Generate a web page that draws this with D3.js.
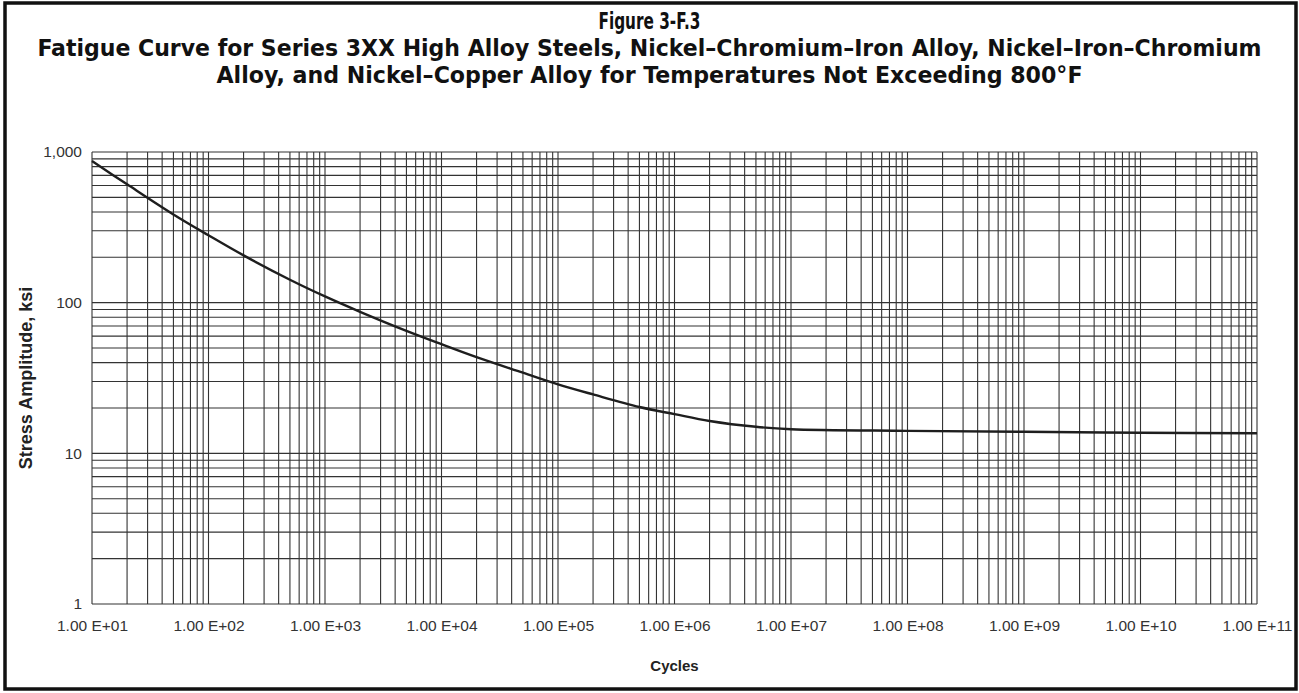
<!DOCTYPE html>
<html>
<head>
<meta charset="utf-8">
<script src="https://cdn.jsdelivr.net/npm/d3@7"></script>
<style>
    body { margin: 0; background: #fff; }
    svg { display: block; }
    .title { font-stretch: condensed; }
</style>
</head>
<body>
<div id="grafico"></div>
<script>
var cycles = [1e1, 2e1, 5e1, 1e2, 2e2, 5e2, 1e3, 2e3, 5e3, 1e4, 2e4, 5e4, 1e5, 2e5, 5e5,
    1e6, 2e6, 5e6, 1e7, 1e8, 1e9, 1e10, 1e11];
var stressKsi = [870, 610, 385, 280, 206, 142, 110, 87, 65, 53, 43.5, 34.3, 28.7, 24.6, 20.3,
    18.2, 16.4, 15.0, 14.45, 14.1, 13.9, 13.7, 13.6];
var xTickValues = [1e1, 1e2, 1e3, 1e4, 1e5, 1e6, 1e7, 1e8, 1e9, 1e10, 1e11];
var xTickLabels = ["1.00 E+01", "1.00 E+02", "1.00 E+03", "1.00 E+04", "1.00 E+05", "1.00 E+06",
    "1.00 E+07", "1.00 E+08", "1.00 E+09", "1.00 E+10", "1.00 E+11"];
var yTickValues = [1, 10, 100, 1000];
var yTickLabels = ["1", "10", "100", "1,000"];
var titleLines = [
    "Figure 3-F.3",
    "Fatigue Curve for Series 3XX High Alloy Steels, Nickel\u2013Chromium\u2013Iron Alloy, Nickel\u2013Iron\u2013Chromium",
    "Alloy, and Nickel\u2013Copper Alloy for Temperatures Not Exceeding 800\u00b0F"
];

var W = 1299, H = 693;
var m = {top: 152, right: 42, bottom: 89, left: 92}
    , w = W - m.left - m.right
    , h = H - m.top - m.bottom;

var svg = d3.select("#grafico").append("svg")
    .attr("width", W)
    .attr("height", H);

// outer frame
svg.append("rect")
    .attr("x", 5)
    .attr("y", 3)
    .attr("width", 1291)
    .attr("height", 686)
    .attr("fill", "none")
    .attr("stroke", "#111")
    .attr("stroke-width", 3.5);

var titleFont = "'DejaVu Sans Condensed', 'DejaVu Sans', 'Liberation Sans Narrow', sans-serif";
var titleWidths = [102, 1224, 866];
var titleY = [29, 56, 83];
svg.selectAll(".title")
    .data(titleLines)
    .enter().append("text")
    .attr("class", "title")
    .attr("x", W / 2)
    .attr("y", function(d, i) { return titleY[i]; })
    .attr("text-anchor", "middle")
    .attr("font-family", titleFont)
    .attr("font-weight", "bold")
    .attr("font-size", "23.5px")
    .attr("fill", "#111")
    .attr("textLength", function(d, i) { return titleWidths[i]; })
    .attr("lengthAdjust", "spacingAndGlyphs")
    .text(function(d) { return d; });

var g = svg.append("g")
    .attr("transform", "translate(" + m.left + "," + m.top + ")");

var x = d3.scaleLog()
    .domain([1e1, 1e11])
    .range([0, w]);

var y = d3.scaleLog()
    .domain([1, 1000])
    .range([h, 0]);

//grid: every 1..9 per decade
var xGrid = [];
for (var e = 1; e < 11; e++) {
    for (var k = 1; k < 10; k++) xGrid.push(k * Math.pow(10, e));
}
xGrid.push(1e11);
var yGrid = [];
for (var e2 = 0; e2 < 3; e2++) {
    for (var k2 = 1; k2 < 10; k2++) yGrid.push(k2 * Math.pow(10, e2));
}
yGrid.push(1000);

g.selectAll(".vgrid")
    .data(xGrid)
    .enter().append("line")
    .attr("class", "vgrid")
    .attr("x1", function(d) { return x(d); })
    .attr("x2", function(d) { return x(d); })
    .attr("y1", 0)
    .attr("y2", h)
    .attr("stroke", "#333")
    .attr("stroke-width", 1.1);

g.selectAll(".hgrid")
    .data(yGrid)
    .enter().append("line")
    .attr("class", "hgrid")
    .attr("x1", 0)
    .attr("x2", w)
    .attr("y1", function(d) { return y(d); })
    .attr("y2", function(d) { return y(d); })
    .attr("stroke", "#333")
    .attr("stroke-width", 1.1);

var labelFont = "'Liberation Sans', Arial, sans-serif";

var xAxis = d3.axisBottom(x)
    .tickValues(xTickValues)
    .tickSize(0)
    .tickPadding(16)
    .tickFormat(function(d, i) { return xTickLabels[i]; });

var yAxis = d3.axisLeft(y)
    .tickValues(yTickValues)
    .tickSize(0)
    .tickPadding(10)
    .tickFormat(function(d, i) { return yTickLabels[i]; });

var gx = g.append("g")
    .attr("class", "x axis")
    .attr("transform", "translate(0," + h + ")")
    .call(xAxis);
var gy = g.append("g")
    .attr("class", "y axis")
    .call(yAxis);

[gx, gy].forEach(function(a) {
    a.select(".domain").remove();
    a.selectAll("text")
        .attr("font-family", labelFont)
        .attr("font-size", "15.5px")
        .attr("fill", "#333");
});

// curve
var line = d3.line()
    .x(function(d) { return x(d[0]); })
    .y(function(d) { return y(d[1]); })
    .curve(d3.curveCatmullRom.alpha(0.5));

g.append("path")
    .datum(cycles.map(function(c, i) { return [c, stressKsi[i]]; }))
    .attr("d", line)
    .attr("fill", "none")
    .attr("stroke", "#1e1e1e")
    .attr("stroke-width", 2.4);

// axis titles
g.append("text")
    .attr("transform", "rotate(-90)")
    .attr("x", -h / 2)
    .attr("y", -m.left + 32)
    .attr("text-anchor", "middle")
    .attr("font-family", labelFont)
    .attr("font-weight", "bold")
    .attr("font-size", "18px")
    .attr("fill", "#222")
    .text("Stress Amplitude, ksi");

g.append("text")
    .attr("x", w / 2)
    .attr("y", h + 67)
    .attr("text-anchor", "middle")
    .attr("font-family", labelFont)
    .attr("font-weight", "bold")
    .attr("font-size", "15px")
    .attr("fill", "#222")
    .text("Cycles");
</script>
</body>
</html>
